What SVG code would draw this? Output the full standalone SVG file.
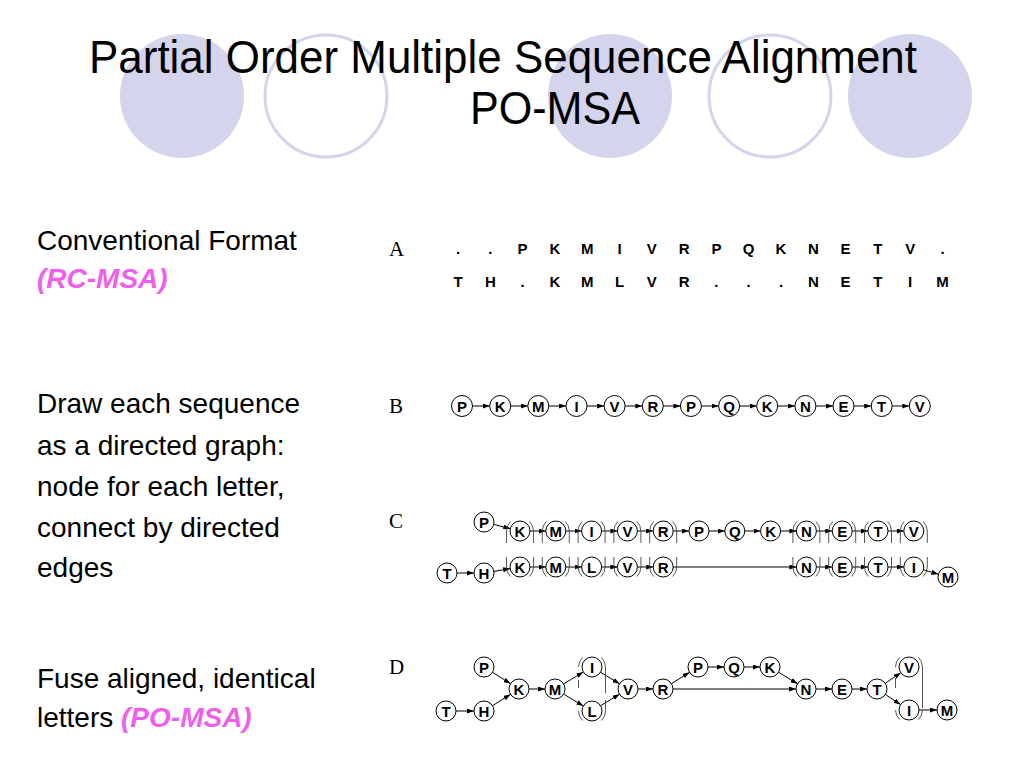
<svg xmlns="http://www.w3.org/2000/svg" width="1024" height="768" viewBox="0 0 1024 768">
<defs>
<style>
.deco-f{fill:#d4d4ec;stroke:none}
.deco-o{fill:#fff;stroke:#d4d4ec;stroke-width:3}
.title{font-family:"Liberation Sans",Arial,sans-serif;font-size:47px;fill:#000}
.body{font-family:"Liberation Sans",Arial,sans-serif;font-size:28px;fill:#000}
.pink{font-weight:bold;font-style:italic;fill:#ef5fec}
.lab{font-family:"Liberation Serif","Times New Roman",serif;font-size:21px;fill:#000}
.seq{font-family:"Liberation Sans",Arial,sans-serif;font-size:15px;font-weight:bold;text-anchor:middle;fill:#000}
.node circle{fill:#fff;stroke:#000;stroke-width:1}
.node text{font-family:"Liberation Sans",Arial,sans-serif;font-size:15px;font-weight:bold;text-anchor:middle;fill:#000}
.edge{stroke:#000;stroke-width:1;fill:none;marker-end:url(#ah)}
.ring{stroke:#444;stroke-width:0.9;fill:none}
</style>
<marker id="ah" viewBox="0 0 7 5" refX="7" refY="2.5" markerWidth="7" markerHeight="5" markerUnits="userSpaceOnUse" orient="auto">
<path d="M0,0 L7,2.5 L0,5 z" fill="#000"/>
</marker>
</defs>
<rect width="1024" height="768" fill="#fff"/>

<g id="decoration">
<circle class="deco-f" cx="182" cy="96" r="62"/>
<circle class="deco-o" cx="326" cy="96" r="61"/>
<circle class="deco-f" cx="610" cy="96" r="62"/>
<circle class="deco-o" cx="770" cy="96" r="61"/>
<circle class="deco-f" cx="910" cy="96" r="62"/>
</g>

<g id="title">
<text class="title" x="89" y="73" textLength="828" lengthAdjust="spacingAndGlyphs">Partial Order Multiple Sequence Alignment</text>
<text class="title" x="470" y="124" textLength="170" lengthAdjust="spacingAndGlyphs">PO-MSA</text>
</g>

<g id="left-text">
<text class="body" x="37" y="250">Conventional Format</text>
<text class="body pink" x="37" y="288">(RC-MSA)</text>
<text class="body" x="37" y="413">Draw each sequence</text>
<text class="body" x="37" y="455">as a directed graph:</text>
<text class="body" x="37" y="496">node for each letter,</text>
<text class="body" x="37" y="537">connect by directed</text>
<text class="body" x="37" y="577">edges</text>
<text class="body" x="37" y="688">Fuse aligned, identical</text>
<text class="body" x="37" y="727">letters <tspan class="pink">(PO-MSA)</tspan></text>
</g>

<g id="panel-labels">
<text class="lab" x="389" y="256">A</text>
<text class="lab" x="389" y="413">B</text>
<text class="lab" x="389" y="528">C</text>
<text class="lab" x="389" y="674">D</text>
</g>

<g id="panel-A">
<text class="seq" x="458 490.3 522.6 554.9 587.2 619.5 651.8 684.1 716.4 748.7 781 813.3 845.6 877.9 910.2 942.5" y="254">..PKMIVRPQKNETV.</text>
<text class="seq" x="458 490.3 522.6 554.9 587.2 619.5 651.8 684.1 716.4 748.7 781 813.3 845.6 877.9 910.2 942.5" y="287">TH.KMLVR...NETIM</text>
</g>

<g id="connectors">
<!-- B -->
<path class="edge" d="M472.5,406 H489.7"/>
<path class="edge" d="M510.7,406 H527.8"/>
<path class="edge" d="M548.8,406 H566"/>
<path class="edge" d="M587,406 H604.1"/>
<path class="edge" d="M625.1,406 H642.3"/>
<path class="edge" d="M663.3,406 H680.4"/>
<path class="edge" d="M701.4,406 H718.6"/>
<path class="edge" d="M739.6,406 H756.7"/>
<path class="edge" d="M777.7,406 H794.9"/>
<path class="edge" d="M815.9,406 H833"/>
<path class="edge" d="M854,406 H871.2"/>
<path class="edge" d="M892.2,406 H909.3"/>
<!-- C top -->
<path class="edge" d="M493.7,524.4 L510.3,528.6"/>
<path class="edge" d="M530,531 H545.8"/>
<path class="edge" d="M565.8,531 H581.6"/>
<path class="edge" d="M601.6,531 H617.4"/>
<path class="edge" d="M637.4,531 H653.2"/>
<path class="edge" d="M673.2,531 H689"/>
<path class="edge" d="M709,531 H724.8"/>
<path class="edge" d="M744.8,531 H760.6"/>
<path class="edge" d="M780.6,531 H796.4"/>
<path class="edge" d="M816.4,531 H832.2"/>
<path class="edge" d="M852.2,531 H868"/>
<path class="edge" d="M888,531 H903.8"/>
<!-- C bottom -->
<path class="edge" d="M457,573 H474"/>
<path class="edge" d="M493.9,571.4 L510.1,568.6"/>
<path class="edge" d="M530,567 H545.8"/>
<path class="edge" d="M565.8,567 H581.6"/>
<path class="edge" d="M601.6,567 H617.4"/>
<path class="edge" d="M637.4,567 H653.2"/>
<path class="edge" d="M673.2,567 H796.4"/>
<path class="edge" d="M816.4,567 H832.2"/>
<path class="edge" d="M852.2,567 H868"/>
<path class="edge" d="M888,567 H903.8"/>
<path class="edge" d="M923.4,569.8 L938.4,574.2"/>
<!-- D -->
<path class="edge" d="M492.5,672.3 L510.5,683.7"/>
<path class="edge" d="M456,711 H474"/>
<path class="edge" d="M492.5,705.7 L510.5,694.3"/>
<path class="edge" d="M529,689 H545"/>
<path class="edge" d="M563.6,683.9 L583.4,672.1"/>
<path class="edge" d="M563.6,694.1 L583.4,705.9"/>
<path class="edge" d="M600.5,672.2 L619.5,683.8"/>
<path class="edge" d="M600.5,705.8 L619.5,694.2"/>
<path class="edge" d="M638,689 H653"/>
<path class="edge" d="M671.5,683.7 L689.5,672.3"/>
<path class="edge" d="M673,689 H796"/>
<path class="edge" d="M708,667 H724"/>
<path class="edge" d="M744,667 H760"/>
<path class="edge" d="M778.5,672.2 L797.5,683.8"/>
<path class="edge" d="M816,689 H832"/>
<path class="edge" d="M852,689 H867"/>
<path class="edge" d="M885.2,683.3 L900.8,672.7"/>
<path class="edge" d="M885.4,694.5 L900.6,704.5"/>
<path class="edge" d="M919,710 H937"/>
</g>

<g id="alignment-rings">
<path class="ring" d="M510.5,521.5 A13.5,13.5 0 0 0 506.5,531 V543 M529.5,521.5 A13.5,13.5 0 0 1 533.5,531 V543 M506.5,557 V567 A13.5,13.5 0 0 0 510.5,576.5 M533.5,557 V567 A13.5,13.5 0 0 1 529.5,576.5"/>
<path class="ring" d="M546.3,521.5 A13.5,13.5 0 0 0 542.3,531 V543 M565.3,521.5 A13.5,13.5 0 0 1 569.3,531 V543 M542.3,557 V567 A13.5,13.5 0 0 0 546.3,576.5 M569.3,557 V567 A13.5,13.5 0 0 1 565.3,576.5"/>
<path class="ring" d="M582.1,521.5 A13.5,13.5 0 0 0 578.1,531 V543 M601.1,521.5 A13.5,13.5 0 0 1 605.1,531 V543 M578.1,557 V567 A13.5,13.5 0 0 0 582.1,576.5 M605.1,557 V567 A13.5,13.5 0 0 1 601.1,576.5"/>
<path class="ring" d="M617.9,521.5 A13.5,13.5 0 0 0 613.9,531 V543 M636.9,521.5 A13.5,13.5 0 0 1 640.9,531 V543 M613.9,557 V567 A13.5,13.5 0 0 0 617.9,576.5 M640.9,557 V567 A13.5,13.5 0 0 1 636.9,576.5"/>
<path class="ring" d="M653.7,521.5 A13.5,13.5 0 0 0 649.7,531 V543 M672.7,521.5 A13.5,13.5 0 0 1 676.7,531 V543 M649.7,557 V567 A13.5,13.5 0 0 0 653.7,576.5 M676.7,557 V567 A13.5,13.5 0 0 1 672.7,576.5"/>
<path class="ring" d="M796.9,521.5 A13.5,13.5 0 0 0 792.9,531 V543 M815.9,521.5 A13.5,13.5 0 0 1 819.9,531 V543 M792.9,557 V567 A13.5,13.5 0 0 0 796.9,576.5 M819.9,557 V567 A13.5,13.5 0 0 1 815.9,576.5"/>
<path class="ring" d="M832.7,521.5 A13.5,13.5 0 0 0 828.7,531 V543 M851.7,521.5 A13.5,13.5 0 0 1 855.7,531 V543 M828.7,557 V567 A13.5,13.5 0 0 0 832.7,576.5 M855.7,557 V567 A13.5,13.5 0 0 1 851.7,576.5"/>
<path class="ring" d="M868.5,521.5 A13.5,13.5 0 0 0 864.5,531 V543 M887.5,521.5 A13.5,13.5 0 0 1 891.5,531 V543 M864.5,557 V567 A13.5,13.5 0 0 0 868.5,576.5 M891.5,557 V567 A13.5,13.5 0 0 1 887.5,576.5"/>
<path class="ring" d="M904.3,521.5 A13.5,13.5 0 0 0 900.3,531 V543 M923.3,521.5 A13.5,13.5 0 0 1 927.3,531 V543 M900.3,557 V567 A13.5,13.5 0 0 0 904.3,576.5 M927.3,557 V567 A13.5,13.5 0 0 1 923.3,576.5"/>
<path class="ring" d="M582.5,657.5 A13.5,13.5 0 0 0 578.5,667 M578.5,680 V688 M601.5,657.5 A13.5,13.5 0 0 1 605.5,667 V693 M605.5,700 V711 A13.5,13.5 0 0 1 601.5,720.5 M578.5,711 A13.5,13.5 0 0 0 582.5,720.5"/>
<path class="ring" d="M899.5,657.5 A13.5,13.5 0 0 0 895.5,667 M895.5,678 V688 M918.5,657.5 A13.5,13.5 0 0 1 922.5,667 V708 M922.5,710 A13.5,13.5 0 0 1 918.5,719.5 M895.5,710 A13.5,13.5 0 0 0 899.5,719.5"/>
</g>

<g id="panel-B">
<g id="b1" class="node"><circle cx="462" cy="406" r="10.5"/><text x="462" y="411.5">P</text></g>
<g id="b2" class="node"><circle cx="500.2" cy="406" r="10.5"/><text x="500.2" y="411.5">K</text></g>
<g id="b3" class="node"><circle cx="538.3" cy="406" r="10.5"/><text x="538.3" y="411.5">M</text></g>
<g id="b4" class="node"><circle cx="576.5" cy="406" r="10.5"/><text x="576.5" y="411.5">I</text></g>
<g id="b5" class="node"><circle cx="614.6" cy="406" r="10.5"/><text x="614.6" y="411.5">V</text></g>
<g id="b6" class="node"><circle cx="652.8" cy="406" r="10.5"/><text x="652.8" y="411.5">R</text></g>
<g id="b7" class="node"><circle cx="690.9" cy="406" r="10.5"/><text x="690.9" y="411.5">P</text></g>
<g id="b8" class="node"><circle cx="729.1" cy="406" r="10.5"/><text x="729.1" y="411.5">Q</text></g>
<g id="b9" class="node"><circle cx="767.2" cy="406" r="10.5"/><text x="767.2" y="411.5">K</text></g>
<g id="b10" class="node"><circle cx="805.4" cy="406" r="10.5"/><text x="805.4" y="411.5">N</text></g>
<g id="b11" class="node"><circle cx="843.5" cy="406" r="10.5"/><text x="843.5" y="411.5">E</text></g>
<g id="b12" class="node"><circle cx="881.7" cy="406" r="10.5"/><text x="881.7" y="411.5">T</text></g>
<g id="b13" class="node"><circle cx="919.8" cy="406" r="10.5"/><text x="919.8" y="411.5">V</text></g>
</g>

<g id="panel-C">
<g id="c-p" class="node"><circle cx="484" cy="522" r="10"/><text x="484" y="527.5">P</text></g>
<g id="c-t1" class="node"><circle cx="520" cy="531" r="10"/><text x="520" y="536.5">K</text></g>
<g id="c-t2" class="node"><circle cx="555.8" cy="531" r="10"/><text x="555.8" y="536.5">M</text></g>
<g id="c-t3" class="node"><circle cx="591.6" cy="531" r="10"/><text x="591.6" y="536.5">I</text></g>
<g id="c-t4" class="node"><circle cx="627.4" cy="531" r="10"/><text x="627.4" y="536.5">V</text></g>
<g id="c-t5" class="node"><circle cx="663.2" cy="531" r="10"/><text x="663.2" y="536.5">R</text></g>
<g id="c-t6" class="node"><circle cx="699" cy="531" r="10"/><text x="699" y="536.5">P</text></g>
<g id="c-t7" class="node"><circle cx="734.8" cy="531" r="10"/><text x="734.8" y="536.5">Q</text></g>
<g id="c-t8" class="node"><circle cx="770.6" cy="531" r="10"/><text x="770.6" y="536.5">K</text></g>
<g id="c-t9" class="node"><circle cx="806.4" cy="531" r="10"/><text x="806.4" y="536.5">N</text></g>
<g id="c-t10" class="node"><circle cx="842.2" cy="531" r="10"/><text x="842.2" y="536.5">E</text></g>
<g id="c-t11" class="node"><circle cx="878" cy="531" r="10"/><text x="878" y="536.5">T</text></g>
<g id="c-t12" class="node"><circle cx="913.8" cy="531" r="10"/><text x="913.8" y="536.5">V</text></g>
<g id="c-bt" class="node"><circle cx="447" cy="573" r="10"/><text x="447" y="578.5">T</text></g>
<g id="c-bh" class="node"><circle cx="484" cy="573" r="10"/><text x="484" y="578.5">H</text></g>
<g id="c-b1" class="node"><circle cx="520" cy="567" r="10"/><text x="520" y="572.5">K</text></g>
<g id="c-b2" class="node"><circle cx="555.8" cy="567" r="10"/><text x="555.8" y="572.5">M</text></g>
<g id="c-b3" class="node"><circle cx="591.6" cy="567" r="10"/><text x="591.6" y="572.5">L</text></g>
<g id="c-b4" class="node"><circle cx="627.4" cy="567" r="10"/><text x="627.4" y="572.5">V</text></g>
<g id="c-b5" class="node"><circle cx="663.2" cy="567" r="10"/><text x="663.2" y="572.5">R</text></g>
<g id="c-b9" class="node"><circle cx="806.4" cy="567" r="10"/><text x="806.4" y="572.5">N</text></g>
<g id="c-b10" class="node"><circle cx="842.2" cy="567" r="10"/><text x="842.2" y="572.5">E</text></g>
<g id="c-b11" class="node"><circle cx="878" cy="567" r="10"/><text x="878" y="572.5">T</text></g>
<g id="c-b12" class="node"><circle cx="913.8" cy="567" r="10"/><text x="913.8" y="572.5">I</text></g>
<g id="c-bm" class="node"><circle cx="948" cy="577" r="10"/><text x="948" y="582.5">M</text></g>
</g>

<g id="panel-D">
<g id="d-p" class="node"><circle cx="484" cy="667" r="10"/><text x="484" y="672.5">P</text></g>
<g id="d-t" class="node"><circle cx="446" cy="711" r="10"/><text x="446" y="716.5">T</text></g>
<g id="d-h" class="node"><circle cx="484" cy="711" r="10"/><text x="484" y="716.5">H</text></g>
<g id="d-k" class="node"><circle cx="519" cy="689" r="10"/><text x="519" y="694.5">K</text></g>
<g id="d-m" class="node"><circle cx="555" cy="689" r="10"/><text x="555" y="694.5">M</text></g>
<g id="d-i" class="node"><circle cx="592" cy="667" r="10"/><text x="592" y="672.5">I</text></g>
<g id="d-l" class="node"><circle cx="592" cy="711" r="10"/><text x="592" y="716.5">L</text></g>
<g id="d-v" class="node"><circle cx="628" cy="689" r="10"/><text x="628" y="694.5">V</text></g>
<g id="d-r" class="node"><circle cx="663" cy="689" r="10"/><text x="663" y="694.5">R</text></g>
<g id="d-p2" class="node"><circle cx="698" cy="667" r="10"/><text x="698" y="672.5">P</text></g>
<g id="d-q" class="node"><circle cx="734" cy="667" r="10"/><text x="734" y="672.5">Q</text></g>
<g id="d-k2" class="node"><circle cx="770" cy="667" r="10"/><text x="770" y="672.5">K</text></g>
<g id="d-n" class="node"><circle cx="806" cy="689" r="10"/><text x="806" y="694.5">N</text></g>
<g id="d-e" class="node"><circle cx="842" cy="689" r="10"/><text x="842" y="694.5">E</text></g>
<g id="d-t2" class="node"><circle cx="877" cy="689" r="10"/><text x="877" y="694.5">T</text></g>
<g id="d-v2" class="node"><circle cx="909" cy="667" r="10"/><text x="909" y="672.5">V</text></g>
<g id="d-i2" class="node"><circle cx="909" cy="710" r="10"/><text x="909" y="715.5">I</text></g>
<g id="d-m2" class="node"><circle cx="947" cy="710" r="10"/><text x="947" y="715.5">M</text></g>
</g>
</svg>
